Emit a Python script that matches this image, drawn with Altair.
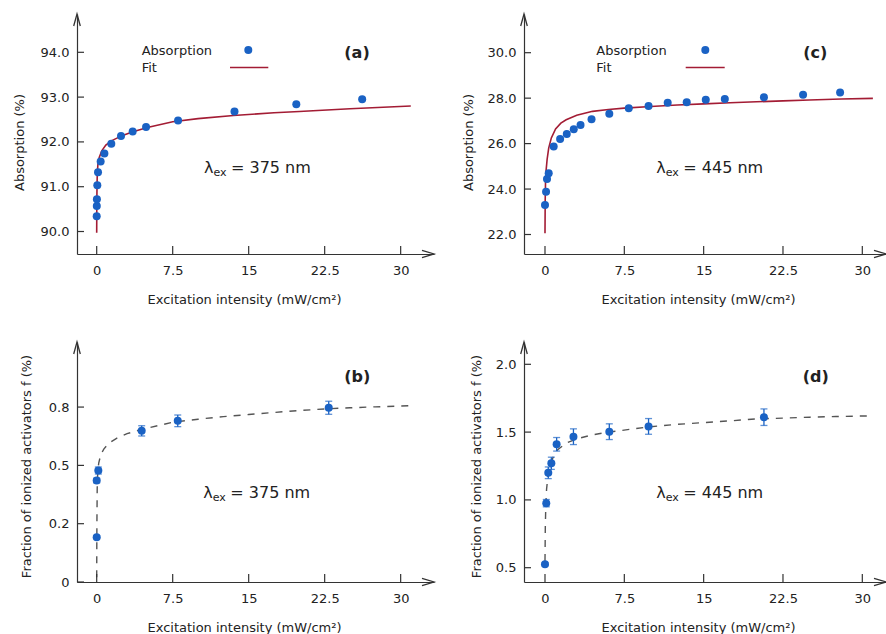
import altair as alt
import pandas as pd

# ---------------- data ----------------
X_TICKS = [0, 7.5, 15, 22.5, 30]
X_LABELS = ["0", "7.5", "15", "22.5", "30"]
X_TITLE = "Excitation intensity (mW/cm²)"

# (a) absorption, 375 nm
a_x = [0, 0.01, 0.02, 0.06, 0.13, 0.39, 0.76, 1.44, 2.4, 3.55, 4.87, 8.03, 13.6, 19.7, 26.2]
a_y = [90.34, 90.57, 90.72, 91.03, 91.32, 91.56, 91.74, 91.96, 92.13, 92.23, 92.33, 92.48, 92.68, 92.84, 92.95]
a_fit_x = [0, 0.01, 0.03, 0.06, 0.12, 0.25, 0.5, 0.9, 1.5, 2.5, 3.5, 5, 7.5, 10, 13.5, 17.5, 20, 25, 31]
a_fit_y = [89.97, 90.6, 91.0, 91.3, 91.5, 91.65, 91.8, 91.93, 92.03, 92.14, 92.22, 92.32, 92.45, 92.52, 92.59, 92.65, 92.68, 92.74, 92.80]
a_yticks = [90, 91, 92, 93, 94]
a_ylabels = ["90.0", "91.0", "92.0", "93.0", "94.0"]

# (c) absorption, 445 nm
c_x = [0, 0.1, 0.19, 0.35, 0.82, 1.43, 2.06, 2.72, 3.36, 4.4, 6.08, 7.92, 9.79, 11.6, 13.4, 15.2, 17.0, 20.7, 24.4, 27.9]
c_y = [23.30, 23.88, 24.44, 24.69, 25.87, 26.20, 26.42, 26.63, 26.82, 27.07, 27.31, 27.56, 27.66, 27.80, 27.82, 27.93, 27.96, 28.04, 28.15, 28.25]
c_fit_x = [0, 0.02, 0.05, 0.1, 0.2, 0.35, 0.6, 1.0, 1.5, 2, 3, 4.5, 6, 7.5, 10, 12.5, 15, 17.5, 20, 22.5, 25, 28, 31]
c_fit_y = [22.05, 23.5, 24.3, 24.8, 25.3, 25.8, 26.25, 26.65, 26.9, 27.05, 27.25, 27.42, 27.5, 27.56, 27.63, 27.7, 27.75, 27.8, 27.84, 27.88, 27.92, 27.96, 27.99]
c_yticks = [22, 24, 26, 28, 30]
c_ylabels = ["22.0", "24.0", "26.0", "28.0", "30.0"]

# (b) fraction of ionized activators, 375 nm
b_x = [0, 0, 0.16, 4.44, 8.0, 22.9]
b_y = [0.192, 0.435, 0.478, 0.648, 0.691, 0.747]
b_err = [0.006, 0.01, 0.015, 0.022, 0.025, 0.028]
b_fit_x = [0, 0.01, 0.02, 0.05, 0.1, 0.2, 0.4, 0.7, 1.2, 2, 3, 4.5, 6, 7.5, 10, 12.5, 15, 17.5, 20, 22.5, 25, 27.5, 31]
b_fit_y = [0.02, 0.15, 0.25, 0.40, 0.47, 0.51, 0.545, 0.57, 0.595, 0.617, 0.636, 0.655, 0.67, 0.685, 0.698, 0.709, 0.718, 0.727, 0.735, 0.742, 0.747, 0.751, 0.756]
b_yticks = [0, 0.25, 0.5, 0.75]
b_ylabels = ["0", "0.2", "0.5", "0.8"]

# (d) fraction of ionized activators, 445 nm
d_x = [0, 0.12, 0.31, 0.6, 1.1, 2.69, 6.08, 9.79, 20.7]
d_y = [0.525, 0.976, 1.20, 1.27, 1.41, 1.466, 1.503, 1.542, 1.61]
d_err = [0.01, 0.027, 0.043, 0.045, 0.05, 0.058, 0.058, 0.058, 0.061]
d_fit_x = [0, 0.03, 0.08, 0.15, 0.3, 0.5, 0.8, 1.2, 2, 3, 4.5, 6, 8, 10, 12.5, 15, 17.5, 20, 22.5, 25, 27.5, 31]
d_fit_y = [0.55, 0.8, 0.97, 1.08, 1.19, 1.26, 1.32, 1.37, 1.42, 1.45, 1.48, 1.50, 1.52, 1.54, 1.557, 1.57, 1.583, 1.597, 1.603, 1.61, 1.615, 1.62]
d_yticks = [0.5, 1.0, 1.5, 2.0]
d_ylabels = ["0.5", "1.0", "1.5", "2.0"]

# ---------------- style ----------------
FONT = "DejaVu Sans"
TXT = "#222222"
AX = "#333333"
BLUE = "#1a62c4"
RED = "#a31c34"
GREY = "#555555"
ONE = pd.DataFrame({"k": [0]})


def label_expr(vals, labels):
    expr = "''"
    for v, l in reversed(list(zip(vals, labels))):
        expr = f"datum.value == {v} ? '{l}' : ({expr})"
    return expr


def vtext(txt, x, y, size=13, weight="normal", align="left", baseline="middle"):
    return alt.Chart(ONE).mark_text(
        text=txt, font=FONT, fontSize=size, fontWeight=weight, color=TXT,
        align=align, baseline=baseline
    ).encode(x=alt.value(x), y=alt.value(y))


def panel(px, py, fx, fy, xdom, ydom, w, h, yticks, ylabels, ytitle,
          ytx, yty, xtx, tag, tag_xy, lam, lam_xy, legend=None, err=None, dashed=False):
    xax = alt.Axis(values=X_TICKS, labelExpr=label_expr(X_TICKS, X_LABELS), title=X_TITLE,
                   titleX=xtx, titleY=39, labelPadding=10, ticks=False, grid=False)
    yax = alt.Axis(values=yticks, labelExpr=label_expr(yticks, ylabels), title=ytitle,
                   titleX=ytx, titleY=yty, labelPadding=8, ticks=False, grid=False)
    xs = alt.Scale(domain=xdom, nice=False, zero=False)
    ys = alt.Scale(domain=ydom, nice=False, zero=False)
    X = alt.X("x:Q", scale=xs, axis=xax)
    Y = alt.Y("y:Q", scale=ys, axis=yax)

    fit_df = pd.DataFrame({"x": fx, "y": fy})
    if dashed:
        fit = alt.Chart(fit_df).mark_line(color=GREY, strokeWidth=1.4, strokeDash=[7, 7]).encode(x=X, y=Y)
    else:
        fit = alt.Chart(fit_df).mark_line(color=RED, strokeWidth=1.6).encode(x=X, y=Y)

    layers = [fit]
    if err is not None:
        edf = pd.DataFrame({"x": px, "lo": [v - e for v, e in zip(py, err)], "hi": [v + e for v, e in zip(py, err)]})
        YL = alt.Y("lo:Q", scale=ys, axis=yax)
        YH = alt.Y("hi:Q", scale=ys, axis=yax)
        layers.append(alt.Chart(edf).mark_rule(color=BLUE, strokeWidth=1.3).encode(x=X, y=YL, y2="hi:Q"))
        layers.append(alt.Chart(edf).mark_tick(color=BLUE, orient="horizontal", size=7, thickness=1.3).encode(x=X, y=YL))
        layers.append(alt.Chart(edf).mark_tick(color=BLUE, orient="horizontal", size=7, thickness=1.3).encode(x=X, y=YH))

    pts = pd.DataFrame({"x": px, "y": py})
    layers.append(alt.Chart(pts).mark_circle(color=BLUE, size=64, opacity=1).encode(x=X, y=Y))

    # inward ticks
    layers.append(alt.Chart(pd.DataFrame({"x": X_TICKS})).mark_rule(color=AX, strokeWidth=1.2).encode(
        x=X, y=alt.value(h), y2=alt.value(h - 8)))
    layers.append(alt.Chart(pd.DataFrame({"y": yticks})).mark_rule(color=AX, strokeWidth=1.2).encode(
        y=Y, x=alt.value(0), x2=alt.value(7)))
    # axis arrows
    layers.append(alt.Chart(ONE).mark_point(shape="M -2 -0.6 L 0 0 L -2 0.6", size=144, filled=False,
                                            color=AX, strokeWidth=1.3, opacity=1).encode(
        x=alt.value(w), y=alt.value(h)))
    layers.append(alt.Chart(ONE).mark_point(shape="M -0.55 2 L 0 0 L 0.55 2", size=144, filled=False,
                                            color=AX, strokeWidth=1.3, opacity=1).encode(
        x=alt.value(0), y=alt.value(0)))

    # panel tag
    layers.append(vtext(tag, tag_xy[0], tag_xy[1], size=16, weight="bold", align="center"))
    # lambda annotation
    lx, ly = lam_xy
    layers.append(vtext("λ", lx, ly, size=16, baseline="alphabetic"))
    layers.append(vtext("ex", lx + 9.5, ly + 3, size=11, baseline="alphabetic"))
    layers.append(vtext(f"= {lam} nm", lx + 27, ly, size=16, baseline="alphabetic"))

    if legend is not None:
        tx, mx, l1, l2 = legend
        layers.append(vtext("Absorption", tx, 37))
        layers.append(vtext("Fit", tx, 54))
        layers.append(alt.Chart(ONE).mark_circle(color=BLUE, size=64, opacity=1).encode(
            x=alt.value(mx), y=alt.value(36)))
        layers.append(alt.Chart(ONE).mark_rule(color=RED, strokeWidth=1.6).encode(
            x=alt.value(l1), x2=alt.value(l2), y=alt.value(53.5)))

    return alt.layer(*layers).properties(width=w, height=h)


A = panel(a_x, a_y, a_fit_x, a_fit_y, [-1.944, 33.29], [89.498, 94.855], 357, 240,
          a_yticks, a_ylabels, "Absorption (%)", -51, 128, 167, "(a)", (280, 39), 375, (127, 158.5),
          legend=(64.7, 171.3, 153, 191.3))
C = panel(c_x, c_y, c_fit_x, c_fit_y, [-1.985, 32.24], [21.142, 31.703], 362, 240,
          c_yticks, c_ylabels, "Absorption (%)", -49, 128, 174, "(c)", (291.3, 39), 445, (132.3, 158.5),
          legend=(72.3, 181.3, 161.7, 200.7))
B = panel(b_x, b_y, b_fit_x, b_fit_y, [-1.944, 33.29], [0, 1.029], 357, 240,
          b_yticks, b_ylabels, "Fraction of ionized activators f (%)", -44, 124, 167, "(b)", (280.3, 35.3),
          375, (126.3, 156), err=b_err, dashed=True)
D = panel(d_x, d_y, d_fit_x, d_fit_y, [-1.985, 32.24], [0.3945, 2.1645], 362, 240,
          d_yticks, d_ylabels, "Fraction of ionized activators f (%)", -41, 124, 174, "(d)", (291.7, 35.3),
          445, (132.3, 156), err=d_err, dashed=True)

chart = alt.concat(A, C, B, D, columns=2, spacing={"row": 88, "column": 90}, bounds="flush").properties(
    autosize=alt.AutoSizeParams(type="none"),
    padding={"left": 77, "top": 14, "right": 809, "bottom": 620},
    background="white",
).configure_view(strokeWidth=0).configure_axis(
    labelFont=FONT, titleFont=FONT, labelFontSize=13, titleFontSize=13,
    labelColor=TXT, titleColor=TXT, titleFontWeight="normal",
    domainColor=AX, domainWidth=1.2,
)

chart.save("out.html", embed_options={"renderer": "svg", "actions": False})
